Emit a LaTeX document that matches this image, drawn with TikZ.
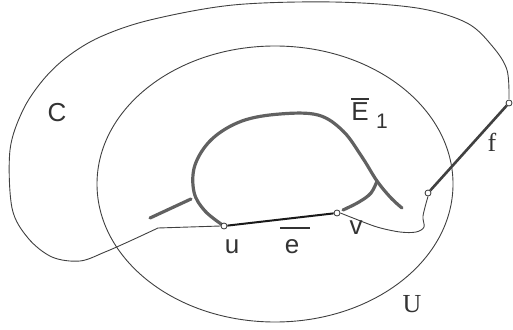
\documentclass[tikz,border=0pt]{standalone}
\usepackage{fontspec}
\setmainfont{Liberation Sans}
\newfontfamily\seriffont{Liberation Serif}
\begin{document}
\begin{tikzpicture}[x=1pt,y=-1pt,
  thinline/.style={draw=black!75,line width=0.9pt},
  thickgray/.style={draw=black!62,line width=3.2pt,line cap=round},
  vert/.style={circle,draw=black!80,fill=white,line width=0.8pt,inner sep=0pt,minimum size=6pt},
  lbl/.style={font=\fontsize{26}{28}\selectfont,text=black!80,inner sep=0pt},
  slbl/.style={font=\fontsize{26}{28}\selectfont\seriffont,text=black!80,inner sep=0pt},
  barline/.style={draw=black!80,line width=1.4pt}]
\useasboundingbox (0,0) rectangle (513,329);
% ellipse U
\draw[thinline] (275,184) ellipse [x radius=178, y radius=138];
% E1 thick curve
\draw[thickgray] plot[smooth,tension=0.6] coordinates {(224,226) (205,211) (194,192) (195,165) (212,139) (242,121) (280,114) (318,115) (343,131) (362,157) (377,181) (391,198) (402,208)};
\draw[thickgray] plot[smooth,tension=0.6] coordinates {(377,181) (371,193) (359,202) (343,210)};
\draw[thickgray] (191,199) -- (150,218);
% vertices
\node[vert] (u) at (224,226) {};
\node[vert] (v) at (337,213) {};
\node[vert] (w) at (428,193) {};
\node[vert] (z) at (509,103) {};
\coordinate (c0) at (158,228);
% e line
\draw[line width=2pt,draw=black!90] (u) -- (v);
% f line
\draw[draw=black!75,line width=2.6pt] (w) -- (z);
% curve C
\draw[thinline] (u.west) -- (c0);
\draw[thinline] plot[smooth,tension=0.55] coordinates {(c0) (130,241) (105,252) (80,261) (52,257) (28,238) (12,208) (10,150) (23,110) (43,80) (67,57) (100,37) (150,20) (233,5) (333,2) (417,8) (467,23) (493,47) (507,70) (509,99)};
% curve from w to v
\draw[thinline] plot[smooth,tension=0.55] coordinates {(w.south) (423,216) (424,227) (416,232) (400,232) (377,227) (353,218) (v.east)};
% labels
\node[lbl] (lc) at (57,113) {C};
\node[lbl] (lE) at (360,112) {E};
\draw[barline] ([yshift=4pt]lE.north west) -- ([yshift=4pt]lE.north east);
\node[lbl,font=\fontsize{21}{23}\selectfont] (l1) at (382,121) {1};
\node[slbl] (lf) at (492,142) {f};
\node[lbl] (lu) at (232,247) {u};
\node[lbl] (le) at (292,247) {e};
\coordinate (eb1) at (280,228);
\coordinate (eb2) at (310,228);
\draw[barline] (eb1) -- (eb2);
\node[lbl] (lv) at (356,228) {v};
\node[slbl] (lU) at (412,304) {U};
\end{tikzpicture}
\end{document}
